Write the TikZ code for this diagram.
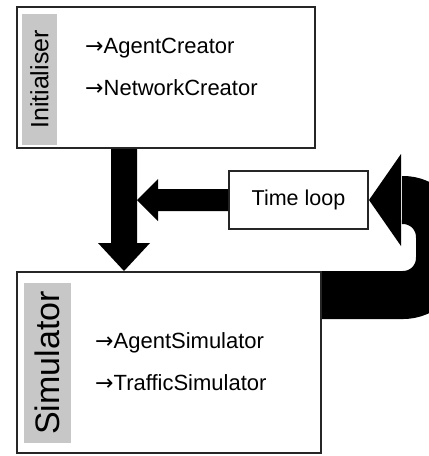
\documentclass[tikz,border=0pt]{standalone}
\usepackage{fontspec}
\setmainfont{Liberation Sans}
\newfontfamily\arrowfont{DejaVu Sans}
\newcommand{\callarrow}{{\arrowfont →}}
\usetikzlibrary{calc}

\begin{document}
\begin{tikzpicture}[x=1pt,y=-1pt,
  box/.style={draw=black!85,line width=2pt,fill=white,inner sep=0pt},
  tag/.style={fill=black!22,inner sep=0pt,rotate=90},
  item/.style={anchor=west,inner sep=0pt,font=\fontsize{22}{26}\selectfont},
  fat/.style={fill=black}]
\clip (0,0) rectangle (429,456);
\node[box,minimum width=298,minimum height=141] (init) at (166,77.5) {};
\node[box,minimum width=304,minimum height=181] (sim) at (169,362.5) {};
\node[box,minimum width=139,minimum height=58,font=\fontsize{21.5}{25}\selectfont] (loop) at (298.5,200) {Time loop};

\node[tag,minimum width=131,minimum height=35,font=\fontsize{25}{30}\selectfont] (inittag) at (39.5,79.5) {Initialiser};
\node[tag,minimum width=160,minimum height=47,font=\fontsize{34}{40}\selectfont] (simtag) at (47.5,363) {Simulator};

\node[item] (agentc) at (85,48) {\callarrow AgentCreator};
\node[item] (netc) at (85,88) {\callarrow NetworkCreator};
\node[item] (agents) at (95,343) {\callarrow AgentSimulator};
\node[item] (traffics) at (95,383) {\callarrow TrafficSimulator};

% init to sim
\coordinate (d0) at ($(init.south west)+(108,0)$);
\coordinate (d1) at ($(sim.north west)+(108,0)$);
\fill[fat] ($(d0)+(-13,0)$) -- ($(d1)+(-13,-28)$) -- ($(d1)+(-26,-28)$) -- (d1)
  -- ($(d1)+(26,-28)$) -- ($(d1)+(13,-28)$) -- ($(d0)+(13,0)$) -- cycle;

% loop to the down arrow
\coordinate (l1) at ($(d0 |- loop.west)+(13,0)$);
\fill[fat] ($(loop.west)+(0,-11)$) -- ($(l1)+(21,-11)$) -- ($(l1)+(21,-21)$) -- (l1)
  -- ($(l1)+(21,21)$) -- ($(l1)+(21,11)$) -- ($(loop.west)+(0,11)$) -- cycle;

% sim back to loop
\coordinate (c0) at ($(sim.north east)+(0,24)$);
\coordinate (c1) at ($(loop.east)+(32,0)$);
\coordinate (c2) at ($(c0)+(118,0)$);
\draw[black,line width=48pt,rounded corners=37pt] (c0) -- (c2) -- (c2 |- c1) -- ($(c1)+(1,0)$);
\fill[fat] (loop.east) -- ($(c1)+(0,-46)$) -- ($(c1)+(0,46)$) -- cycle;
\end{tikzpicture}
\end{document}
